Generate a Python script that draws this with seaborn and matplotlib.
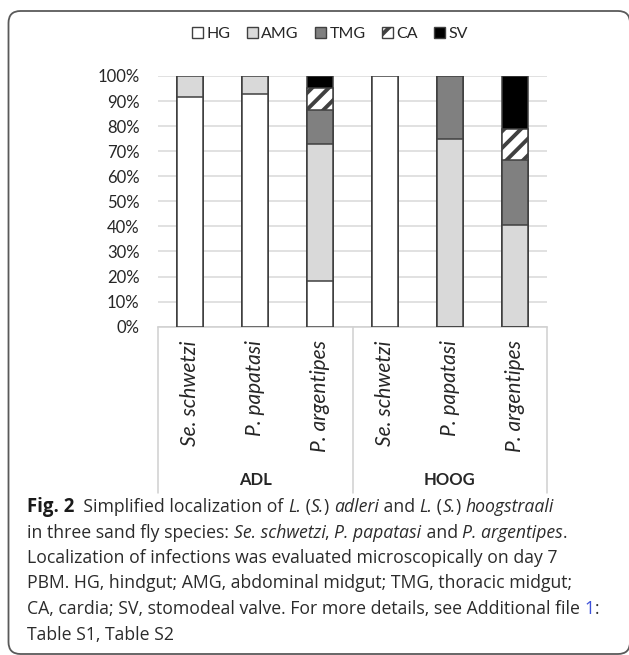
import matplotlib
matplotlib.use("Agg")
import matplotlib.pyplot as plt
from matplotlib.patches import Patch, FancyBboxPatch
from matplotlib.transforms import blended_transform_factory
import numpy as np
import pandas as pd
import seaborn as sns

# ---- data -------------------------------------------------------------
groups = ["ADL", "ADL", "ADL", "HOOG", "HOOG", "HOOG"]
species = ["Se. schwetzi", "P. papatasi", "P. argentipes",
           "Se. schwetzi", "P. papatasi", "P. argentipes"]
sites = ["HG", "AMG", "TMG", "CA", "SV"]
hg = [91.7, 92.9, 18.2, 100.0, 0.0, 0.0]
amg = [8.3, 7.1, 54.5, 0.0, 75.0, 40.7]
tmg = [0.0, 0.0, 13.6, 0.0, 25.0, 25.8]
ca = [0.0, 0.0, 9.1, 0.0, 0.0, 12.5]
sv = [0.0, 0.0, 4.5, 0.0, 0.0, 21.0]
group_names = ["ADL", "HOOG"]
yticks = [0, 10, 20, 30, 40, 50, 60, 70, 80, 90, 100]

# ---- styling ------------------------------------------------------------
sns.set_theme(style="white")
chart_font = ["Lato", "DejaVu Sans"]
caption_font = ["Open Sans", "DejaVu Sans"]
plt.rcParams["font.family"] = chart_font
plt.rcParams["hatch.linewidth"] = 2.8
plt.rcParams["hatch.color"] = "black"

fills = {"HG": "#ffffff", "AMG": "#d9d9d9", "TMG": "#808080",
         "CA": "#ffffff", "SV": "#000000"}
hatches = {"CA": "//"}
edge = "#404040"
text_col = "#262626"

keys = [f"{g}|{s}" for g, s in zip(groups, species)]
df = pd.DataFrame({"key": keys, "HG": hg, "AMG": amg, "TMG": tmg,
                   "CA": ca, "SV": sv})
# cumulative tops for layered stacking
cum = df[sites].cumsum(axis=1)

W, H = 629, 655
fig = plt.figure(figsize=(W / 100, H / 100), dpi=100)
ax = fig.add_axes([157.7 / W, 1 - 326.7 / H, 389.6 / W, 250.7 / H])

for site in reversed(sites):
    sns.barplot(x=df["key"], y=cum[site], order=keys, color=fills[site],
                saturation=1, width=0.41, edgecolor=edge, linewidth=1.1,
                hatch=hatches.get(site), ax=ax, zorder=3)

ax.set_xlim(-0.5, len(keys) - 0.5)
ax.set_ylim(0, 100)
ax.set_yticks(yticks)
ax.set_yticklabels([f"{t}%" for t in yticks], fontsize=12, color=text_col)
ax.tick_params(axis="y", length=0, pad=13)
ax.set_xticks([])
ax.set_xlabel("")
ax.set_ylabel("")
ax.yaxis.grid(True, color="#d9d9d9", linewidth=1.1, zorder=0)
ax.set_axisbelow(True)
for s in ["left", "right", "top"]:
    ax.spines[s].set_visible(False)
ax.spines["bottom"].set_color("#d0d0d0")
ax.spines["bottom"].set_linewidth(1.1)

# category box under the axis
trans = blended_transform_factory(ax.transData, ax.transAxes)
box_bottom = -0.663
for xb in [-0.5, 2.5, 5.5]:
    ax.plot([xb, xb], [0, box_bottom], transform=trans, color="#d0d0d0",
            linewidth=1.1, clip_on=False)
for i, sp in enumerate(species):
    ax.text(i, -0.055, sp, transform=trans, rotation=90, ha="center",
            va="top", fontsize=15, style="italic", color=text_col)
for j, g in enumerate(group_names):
    ax.text(3 * j + 1, -0.612, g, transform=trans, ha="center",
            va="center", fontsize=12, fontweight="bold", color=text_col)

# legend
handles = [Patch(facecolor=fills[s], edgecolor=edge, hatch=hatches.get(s),
                 linewidth=1.0, label=s) for s in sites]
fig.legend(handles=handles, loc="center", bbox_to_anchor=(330 / W, 1 - 34 / H),
           ncol=5, frameon=False, fontsize=11.5, handlelength=0.72,
           handleheight=0.72, handletextpad=0.2, columnspacing=1.0,
           labelcolor=text_col, borderpad=0.2)

# outer rounded frame (drawn in inches so the corners stay circular)
frame = FancyBboxPatch((8.5 / 100, 1.0 / 100), (630 - 8.5) / 100,
                       (654 - 11) / 100,
                       boxstyle="round,pad=0,rounding_size=0.12",
                       transform=fig.dpi_scale_trans, facecolor="none",
                       edgecolor="#5a5a5a", linewidth=1.3, clip_on=False)
fig.patches.append(frame)

# caption with mixed styles
renderer = fig.canvas.get_renderer()
cap_size = 12.7
reg = dict(fontsize=cap_size, color="#2b2b2b", family=caption_font)
it = dict(reg, style="italic")
bd = dict(fontsize=cap_size + 0.7, color="#1a1a1a", family=caption_font,
          fontweight="bold")
blue = dict(reg, color="#3b4fd8")


def run_width(txt, kw):
    a = fig.text(0, 0, "x" + txt + "x", **kw)
    b = fig.text(0, 0, "xx", **kw)
    w = a.get_window_extent(renderer).width - b.get_window_extent(renderer).width
    a.remove()
    b.remove()
    return w


def draw_line(y_px, runs, x_px=27.0):
    x = x_px
    for txt, kw in runs:
        fig.text(x / W, 1 - y_px / H, txt, va="baseline", ha="left", **kw)
        x += run_width(txt, kw)


caption = [
    [("Fig. 2", bd), ("  Simplified localization of ", reg), ("L.", it),
     (" (", reg), ("S.", it), (") ", reg), ("adleri", it), (" and ", reg),
     ("L.", it), (" (", reg), ("S.", it), (") ", reg), ("hoogstraali", it)],
    [("in three sand fly species: ", reg), ("Se. schwetzi", it), (", ", reg),
     ("P. papatasi", it), (" and ", reg), ("P. argentipes", it), (".", reg)],
    [("Localization of infections was evaluated microscopically on day 7", reg)],
    [("PBM. HG, hindgut; AMG, abdominal midgut; TMG, thoracic midgut;", reg)],
    [("CA, cardia; SV, stomodeal valve. For more details, see Additional file ", reg),
     ("1", blue), (":", reg)],
    [("Table S1, Table S2", reg)],
]
for k, runs in enumerate(caption):
    draw_line(512 + 25.5 * k, runs)

fig.savefig("out.png", dpi=100)
